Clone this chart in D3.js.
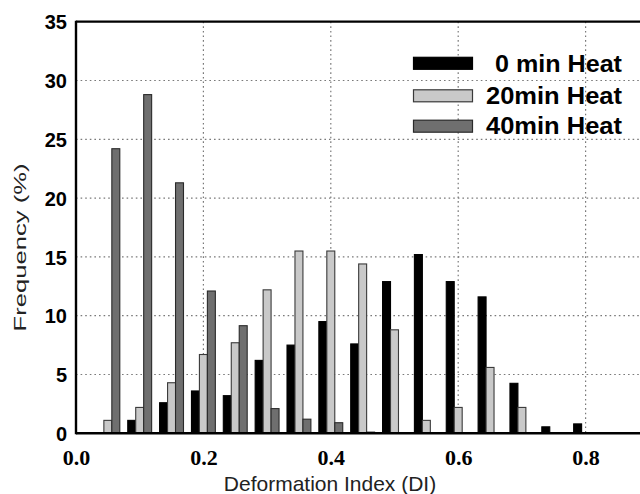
<!DOCTYPE html>
<html>
<head>
<meta charset="utf-8">
<script src="https://cdn.jsdelivr.net/npm/d3@7"></script>
<style>
  html, body { margin: 0; padding: 0; background: #fff; }
  svg { display: block; }
</style>
</head>
<body>
<svg id="chart" width="640" height="494"></svg>
<script>
// Deformation index bins (centres) and frequency (%) per heating time
const binCenters = [0.05, 0.10, 0.15, 0.20, 0.25, 0.30, 0.35, 0.40, 0.45, 0.50, 0.55, 0.60, 0.65, 0.70, 0.75, 0.80];
const heat0  = [0, 1.1, 2.6, 3.6, 3.2, 6.2, 7.5, 9.5, 7.6, 12.9, 15.2, 12.9, 11.6, 4.25, 0.55, 0.8];
const heat20 = [1.1, 2.2, 4.3, 6.7, 7.7, 12.2, 15.5, 15.5, 14.4, 8.8, 1.1, 2.2, 5.6, 2.2, 0, 0];
const heat40 = [24.2, 28.8, 21.3, 12.1, 9.15, 2.1, 1.2, 0.9, 0.1, 0, 0, 0, 0, 0, 0, 0];
const seriesNames = ["0 min Heat", "20min Heat", "40min Heat"];
const xTicks = [0.0, 0.2, 0.4, 0.6, 0.8];
const yTicks = [0, 5, 10, 15, 20, 25, 30, 35];

const series = [
  { name: seriesNames[0], values: heat0,  fill: "#000000", stroke: "#000000" },
  { name: seriesNames[1], values: heat20, fill: "#c9c9c9", stroke: "#3a3a3a" },
  { name: seriesNames[2], values: heat40, fill: "#6f6f6f", stroke: "#2a2a2a" }
];

const svg = d3.select("#chart");

const x = d3.scaleLinear().domain([0, 0.9]).range([76, 649.3]);
const y = d3.scaleLinear().domain([0, 35]).range([433.3, 21.7]);
const barW = 0.0125; // bar width in DI units

// Grid lines
const grid = svg.append("g").attr("class", "grid");
grid.selectAll("line.h").data(yTicks.filter(d => d > 0 && d < 35)).join("line")
  .attr("x1", x(0)).attr("x2", 640)
  .attr("y1", d => y(d)).attr("y2", d => y(d))
  .attr("stroke", "#7a7a7a").attr("stroke-width", 1.2)
  .attr("stroke-dasharray", "1.6,3");
grid.selectAll("line.v").data(xTicks.filter(d => d > 0)).join("line")
  .attr("x1", d => x(d)).attr("x2", d => x(d))
  .attr("y1", y(35)).attr("y2", y(0))
  .attr("stroke", "#7a7a7a").attr("stroke-width", 1.2)
  .attr("stroke-dasharray", "1.6,3");

// Bars
series.forEach((s, si) => {
  svg.append("g").selectAll("rect").data(s.values).join("rect")
    .attr("x", (d, i) => x(binCenters[i] + (si - 1.5) * barW))
    .attr("width", x(barW) - x(0))
    .attr("y", d => y(d))
    .attr("height", d => y(0) - y(d))
    .attr("fill", s.fill)
    .attr("stroke", s.stroke)
    .attr("stroke-width", 1.1);
});

// Axes frame
svg.append("line").attr("x1", x(0)).attr("x2", 640).attr("y1", y(35)).attr("y2", y(35))
  .attr("stroke", "#000").attr("stroke-width", 2.2);
svg.append("line").attr("x1", x(0)).attr("x2", 640).attr("y1", y(0)).attr("y2", y(0))
  .attr("stroke", "#000").attr("stroke-width", 2.4);
svg.append("line").attr("x1", x(0)).attr("x2", x(0)).attr("y1", y(35) - 1).attr("y2", y(0) + 1)
  .attr("stroke", "#000").attr("stroke-width", 2.4);

// Y axis tick labels
const yAxis = d3.axisLeft(y).tickValues(yTicks).tickSize(0).tickPadding(0).tickFormat(d3.format("d"));
const yg = svg.append("g").attr("transform", "translate(67,0)").call(yAxis);
yg.select(".domain").remove();
yg.selectAll("text")
  .attr("font-family", "'Liberation Sans', Arial, sans-serif")
  .attr("font-weight", "bold").attr("font-size", 20).attr("fill", "#000")
  .attr("dy", "0.36em");

// X axis tick labels
const xAxis = d3.axisBottom(x).tickValues(xTicks).tickSize(0).tickPadding(0).tickFormat(d3.format(".1f"));
const xg = svg.append("g").attr("transform", "translate(0,448)").call(xAxis);
xg.select(".domain").remove();
xg.selectAll("text")
  .attr("font-family", "'Liberation Serif', 'Times New Roman', serif")
  .attr("font-weight", "bold").attr("font-size", 22).attr("fill", "#000")
  .attr("dy", "0.76em");

// Axis titles
svg.append("text")
  .attr("x", 330).attr("y", 491)
  .attr("text-anchor", "middle")
  .attr("font-family", "'Liberation Sans', Arial, sans-serif")
  .attr("font-size", 21).attr("fill", "#222")
  .text("Deformation Index (DI)");

svg.append("text")
  .attr("transform", "translate(26,247.5) rotate(-90)")
  .attr("text-anchor", "middle")
  .attr("font-family", "'Liberation Sans', Arial, sans-serif")
  .attr("font-size", 17).attr("fill", "#222")
  .attr("textLength", 168).attr("lengthAdjust", "spacingAndGlyphs")
  .text("Frequency (%)");

// Legend
const legendRows = [63.3, 95.8, 126.2];
const legendWidths = [127, 136, 136];
const legend = svg.append("g");
series.forEach((s, i) => {
  legend.append("rect")
    .attr("x", 413.5).attr("y", legendRows[i] - 6)
    .attr("width", 59).attr("height", 12)
    .attr("fill", s.fill).attr("stroke", s.stroke).attr("stroke-width", 1.2);
  legend.append("text")
    .attr("x", 622).attr("y", legendRows[i] + 8.2)
    .attr("text-anchor", "end")
    .attr("font-family", "'Liberation Sans', Arial, sans-serif")
    .attr("font-weight", "bold").attr("font-size", 23).attr("fill", "#000")
    .attr("textLength", legendWidths[i]).attr("lengthAdjust", "spacingAndGlyphs")
    .text(s.name);
});
</script>
</body>
</html>
